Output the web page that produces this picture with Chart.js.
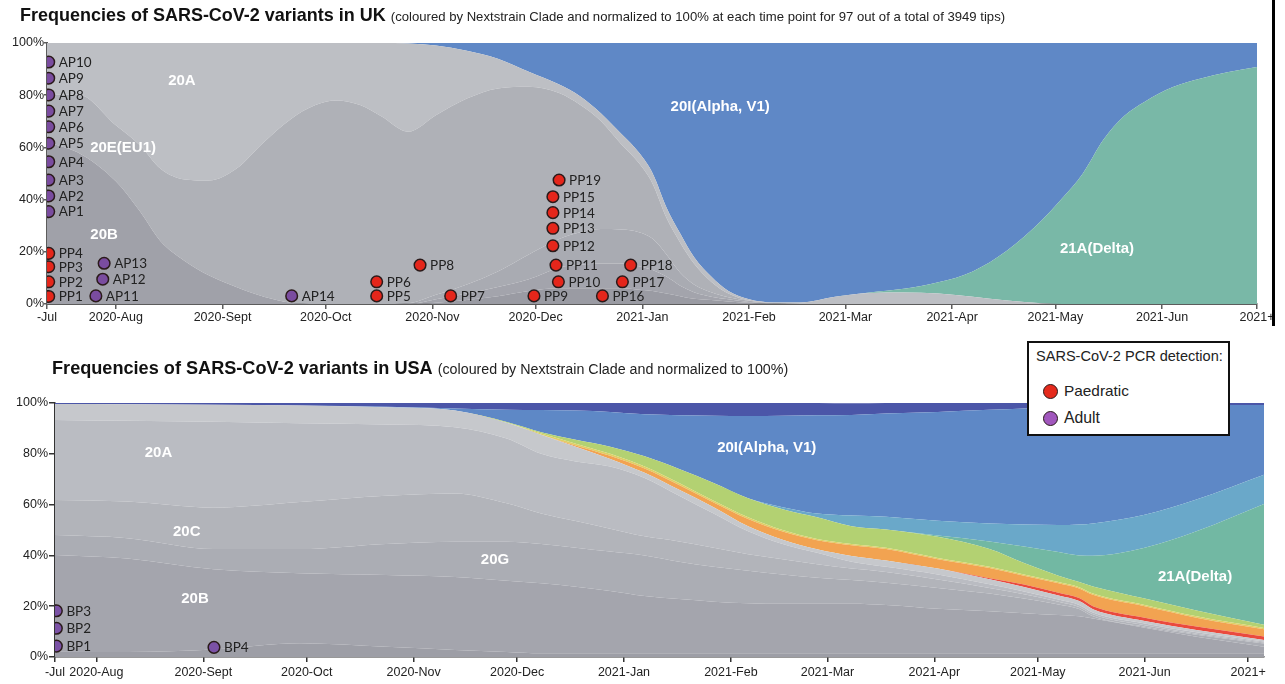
<!DOCTYPE html>
<html>
<head>
<meta charset="utf-8">
<script src="https://cdn.jsdelivr.net/npm/chart.js@4.4.1/dist/chart.umd.min.js"></script>
<style>
  html, body { margin: 0; padding: 0; background: #fff; }
  body { width: 1285px; height: 684px; position: relative; overflow: hidden;
         font-family: "Liberation Sans", Arial, sans-serif; }
  canvas { position: absolute; left: 0; }
  #ukCanvas { top: 0; }
  #usCanvas { top: 340px; }
  .head { position: absolute; white-space: nowrap; display: flex; align-items: baseline; color: #111; }
  .head b { font-size: 18px; font-weight: 700; }
  .head span { margin-left: 5px; font-size: 14px; color: #222; }
  #ukHead { left: 20px; top: 5px; }
  #usHead { left: 52px; top: 358px; }
  .narrow { font-family: "Liberation Sans Narrow", "Liberation Sans", Arial, sans-serif; }
  .legend { position: absolute; left: 1027px; top: 341px; width: 203px; height: 95px; box-sizing: border-box;
            border: 2px solid #111; background: #fff; color: #222; }
  .legend .ttl { position: absolute; left: 7px; top: 5px; white-space: nowrap; font-size: 15px; }
  .legend .item { position: absolute; left: 14px; display: flex; align-items: center; white-space: nowrap; }
  .legend .item span { font-size: 16px; }
  .legend .dot { width: 13px; height: 13px; border-radius: 50%; border: 1.5px solid #2a1a1a; margin-right: 6px; }
  .edge { position: absolute; left: 1272px; top: 0; width: 3px; height: 326px; background: #000; }
</style>
</head>
<body>
<canvas id="ukCanvas" width="1285" height="335"></canvas>
<canvas id="usCanvas" width="1285" height="344"></canvas>

<div class="head" id="ukHead"><b id="ukTitle">Frequencies of SARS-CoV-2 variants in UK</b><span class="narrow" id="ukSub">(coloured by Nextstrain Clade and normalized to 100% at each time point for 97 out of a total of 3949 tips)</span></div>
<div class="head" id="usHead"><b id="usTitle">Frequencies of SARS-CoV-2 variants in USA</b><span class="narrow" id="usSub">(coloured by Nextstrain Clade and normalized to 100%)</span></div>

<div class="legend narrow">
  <div class="ttl" id="legTitle">SARS-CoV-2 PCR detection:</div>
  <div class="item" style="top:39px"><div class="dot" style="background:#e52a1c"></div><span id="legPaed">Paedratic</span></div>
  <div class="item" style="top:66px"><div class="dot" style="background:#a157bd"></div><span id="legAdult">Adult</span></div>
</div>
<div class="edge"></div>

<script>
// ---- axis ticks (days counted from 2020-07-01) ----
const tickLabels = ['-Jul', '2020-Aug', '2020-Sept', '2020-Oct', '2020-Nov', '2020-Dec',
                    '2021-Jan', '2021-Feb', '2021-Mar', '2021-Apr', '2021-May', '2021-Jun', '2021+'];
const ukTickDays = [11, 31, 62, 92, 123, 153, 184, 215, 243, 274, 304, 335, 362.6];
const usTickDays = [19, 31, 62, 92, 123, 153, 184, 215, 243, 274, 304, 335, 365];

// ---- UK clade frequencies (%), one value per sample day ----
const ukDays = [11, 20, 31, 38, 44, 51, 58, 66, 74, 82, 89, 95, 102, 108, 116, 124, 133, 142, 151, 160,
                166, 172, 178, 183, 187, 191, 195, 199, 204, 209, 215, 222, 230, 240, 250, 260, 270, 280, 290, 300,
                306, 312, 318, 324, 330, 338, 346, 354, 363];
const uk20B = [62, 58, 47, 35.5, 24, 16.5, 11, 6.5, 2.8, 0.5, 0, 0, 0, 0, 0, 0, 0, 0, 0, 0,
               0, 0, 0, 0, 0, 0, 0, 0, 0, 0, 0, 0, 0, 0, 0, 0, 0, 0, 0, 0,
               0, 0, 0, 0, 0, 0, 0, 0, 0];
const ukOther1 = [0, 0, 0, 0, 0, 0, 0, 0, 0, 0, 0, 0, 0, 0, 0, 0.5, 1.5, 3, 5, 6,
                  6, 6, 6, 5.5, 5, 4, 3, 2, 1.5, 1, 0.5, 0, 0, 0, 0, 0, 0, 0, 0, 0,
                  0, 0, 0, 0, 0, 0, 0, 0, 0];
const ukOther2 = [0, 0, 0, 0, 0, 0, 0, 0, 0, 0, 0, 0, 0, 0, 0, 1.3, 2.5, 3.5, 4.5, 8,
                  9, 9.5, 9.5, 9, 8, 6.5, 4, 2.5, 1.3, 0.8, 0.3, 0.2, 0, 0, 0, 0, 0, 0, 0, 0,
                  0, 0, 0, 0, 0, 0, 0, 0, 0];
const ukOther3 = [0, 0, 0, 0, 0, 0, 0, 0, 0, 0, 0, 0, 0, 0, 0.3, 1.7, 3.5, 6, 9.5, 11,
                  12.5, 13.2, 13, 13, 12, 8.5, 5, 3, 1.7, 0.8, 0.4, 0.1, 0, 0, 0, 0, 0, 0, 0, 0,
                  0, 0, 0, 0, 0, 0, 0, 0, 0];
const uk20E = [18.3, 22.3, 21.5, 25.3, 27.8, 31.2, 36.3, 45.3, 59.2, 70.5, 76.2, 78, 76.2, 72, 65.7, 68.8, 71.2, 70.1, 64.2, 55.7,
               48.7, 41.3, 32.5, 26.5, 21, 14, 11.5, 8, 4, 1.4, 0.1, 0.1, 0, 0, 0, 0, 0, 0, 0, 0,
               0, 0, 0, 0, 0, 0, 0, 0, 0];
const uk20A = [19.7, 19.7, 31.5, 39.2, 48.2, 52.3, 52.7, 48.2, 38, 29, 23.8, 22, 23.8, 28, 33.8, 26.7, 18.3, 11.4, 5.8, 3.3,
               3.3, 3, 4, 4, 4, 4, 3.5, 2.5, 2, 1, 0.5, 0.2, 0.6, 2.8, 4.2, 4.4, 4, 2.8, 1.3, 0.3,
               0, 0, 0, 0, 0, 0, 0, 0, 0];
const uk21A = [0, 0, 0, 0, 0, 0, 0, 0, 0, 0, 0, 0, 0, 0, 0, 0, 0, 0, 0, 0,
               0, 0, 0, 0, 0, 0, 0, 0, 0, 0, 0, 0, 0, 0, 0.2, 1.4, 4.3, 9.7, 19.2, 31.7,
               40.5, 50, 63, 72, 77.5, 83, 86.3, 88.8, 90.9];
const uk20I = [0, 0, 0, 0, 0, 0, 0, 0, 0, 0, 0, 0, 0, 0, 0.2, 1, 3, 6, 11, 16,
               20.5, 27, 35, 42, 50, 63, 73, 82, 89.5, 95, 98.2, 99.4, 99.4, 97.2, 95.6, 94.2, 91.7, 87.5, 79.5, 68,
               59.5, 50, 37, 28, 22.5, 17, 13.7, 11.2, 9.1];

// ---- USA clade frequencies (%) ----
const usDays = [19, 40, 65, 90, 115, 135, 150, 160, 170, 180, 190, 200, 210, 220, 230, 240, 250, 260, 275, 290,
                300, 310, 316, 320, 335, 350, 370];
const usBase  = [2.1, 2.0, 3.0, 5.4, 4.0, 2.8, 2.0, 1.5, 1.5, 1.5, 1.5, 1.5, 1.5, 1.5, 1.5, 1.5, 1.5, 1.5, 1.5, 1.5,
                 1.5, 1.5, 1.5, 1.5, 1.5, 1.5, 1.5];
const us20B   = [38.1, 36.8, 31.5, 27.6, 28.3, 28.7, 28.0, 27.5, 26.2, 24.5, 22.5, 21.3, 20.3, 19.7, 19.5, 19.5, 19.5, 19.0, 17.5, 16.5,
                 15.7, 15.0, 14.5, 13.7, 10.0, 6.5, 2.5];
const us20G   = [7.8, 8.0, 8.0, 9.5, 12.2, 13.9, 15.4, 15.5, 15.3, 15.5, 16.0, 14.7, 13.7, 12.8, 11.5, 10.2, 9.3, 8.7, 8.2, 7.0,
                 5.8, 4.2, 2.9, 0.8, 0.4, 0.8, 1.2];
const us20C   = [13.8, 14.4, 16.3, 18.5, 19.0, 19.0, 15.1, 12.0, 10.5, 9.0, 7.5, 8.0, 7.5, 6.5, 6.0, 5.3, 4.5, 4.3, 3.3, 2.2,
                 1.7, 1.1, 0.8, 0.8, 0.6, 0.4, 0.4];
const us20A   = [31.5, 31.8, 33.8, 31.0, 28.0, 26.1, 25.5, 23.5, 23.5, 24.5, 23.0, 18.0, 13.5, 9.0, 6.0, 4.5, 2.7, 2.0, 2.0, 1.4,
                 1.1, 0.8, 0.8, 0.7, 0.7, 0.5, 0.4];
const usLight = [6.3, 6.5, 6.7, 7.0, 6.8, 6.5, 6.2, 7.5, 5.8, 3.0, 2.0, 2.3, 2.5, 2.0, 1.7, 1.4, 2.3, 2.5, 2.3, 2.0,
                 1.8, 1.6, 1.5, 1.3, 1.0, 0.9, 0.6];
const usRed   = [0, 0, 0, 0, 0, 0, 0, 0, 0, 0, 0, 0, 0, 0, 0, 0, 0, 0, 0, 0.4,
                 0.9, 1.1, 1.2, 1.2, 1.3, 1.4, 1.4];
const usOrange = [0, 0, 0, 0, 0, 0, 0, 0, 0.5, 1.2, 1.7, 1.9, 1.8, 2.8, 3.2, 3.6, 4.2, 4.5, 3.7, 4.0,
                  3.5, 3.7, 3.8, 4.5, 4.5, 3.5, 2.8];
const usYellow = [0, 0, 0, 0, 0, 0, 0, 0.5, 0.7, 0.8, 0.8, 0.8, 0.7, 0.7, 0.6, 0.5, 0.5, 0.5, 0.5, 0.5,
                  0.5, 0.5, 0.5, 0.5, 0.5, 0.5, 0.5];
const usLime  = [0, 0, 0, 0, 0, 0, 0.3, 0.5, 1.5, 2.8, 4.0, 5.5, 7.0, 7.5, 8.2, 8.5, 7.0, 7.2, 8.3, 7.0,
                 4.5, 2.5, 2.0, 2.8, 2.5, 2.3, 1.3];
const us21A   = [0, 0, 0, 0, 0, 0, 0, 0, 0, 0, 0, 0, 0, 0, 0, 0, 0, 0, 0.5, 3.0,
                 6.5, 9.3, 10.5, 12.1, 20.0, 31.2, 47.9];
const usTeal  = [0, 0, 0, 0, 0, 0, 0, 0, 0, 0, 0, 0, 0, 0, 0.8, 1.5, 4.2, 5.0, 5.8, 7.1,
                 8.7, 10.7, 12.2, 12.7, 13.0, 12.5, 11.5];
const us20I   = [0, 0, 0, 0, 0.2, 0.8, 4.8, 8.7, 11.5, 13.7, 16.6, 21.2, 26.5, 32.4, 36.0, 38.7, 39.6, 40.7, 42.9, 44.7,
                 45.6, 46.3, 46.4, 46.2, 43.0, 37.1, 27.2];
const usNavy  = [0.4, 0.5, 0.7, 1.0, 1.5, 2.2, 2.7, 2.8, 3.0, 3.5, 4.4, 4.8, 5.0, 5.1, 5.0, 4.8, 4.6, 4.1, 3.5, 2.7,
                 2.2, 1.7, 1.4, 1.2, 1.0, 0.9, 0.8];

// ---- PCR-positive samples ----
const ukPaedNames = ['PP1', 'PP2', 'PP3', 'PP4', 'PP5', 'PP6', 'PP7', 'PP8', 'PP9', 'PP10',
                     'PP11', 'PP12', 'PP13', 'PP14', 'PP15', 'PP16', 'PP17', 'PP18', 'PP19'];
const ukPaedDays  = [11.5, 11.5, 11.5, 11.5, 106.8, 106.8, 128.3, 119.4, 152.5, 159.6,
                     158.9, 158, 158, 158, 158, 172.4, 178.2, 180.6, 159.8];
const ukPaedPct   = [2.9, 8.5, 14.3, 19.4, 3.1, 8.5, 3.1, 14.9, 3.1, 8.5,
                     14.9, 22.3, 29.0, 35.0, 41.1, 3.1, 8.5, 14.9, 47.5];
const ukAdultNames = ['AP1', 'AP2', 'AP3', 'AP4', 'AP5', 'AP6', 'AP7', 'AP8', 'AP9', 'AP10',
                      'AP11', 'AP12', 'AP13', 'AP14'];
const ukAdultDays  = [11.5, 11.5, 11.5, 11.5, 11.5, 11.5, 11.5, 11.5, 11.5, 11.5,
                      25.2, 27.2, 27.6, 82.1];
const ukAdultPct   = [35.4, 41.4, 47.5, 54.5, 61.6, 67.9, 73.9, 80.1, 86.5, 92.7,
                      3.1, 9.5, 15.6, 3.1];
const usAdultNames = ['BP1', 'BP2', 'BP3', 'BP4'];
const usAdultDays  = [19.4, 19.4, 19.4, 65.1];
const usAdultPct   = [4.3, 11.3, 18.2, 3.8];

// ---- clade names written inside the areas ----
const ukCladeText = ['20A', '20E(EU1)', '20B', '20I(Alpha, V1)', '21A(Delta)'];
const ukCladeDay  = [50.2, 33.1, 27.6, 206.6, 316.1];
const ukCladePct  = [85.5, 59.9, 26.4, 75.4, 21.3];
const usCladeText = ['20A', '20C', '20B', '20G', '20I(Alpha, V1)', '21A(Delta)'];
const usCladeDay  = [49, 57.2, 59.6, 146.6, 225.4, 349.6];
const usCladePct  = [80.4, 49.3, 22.7, 38.2, 82.2, 31.4];

// use the narrow sans for small texts when it is installed
function fontInstalled(name) {
  const c = document.createElement('canvas').getContext('2d');
  const probe = 'AP10 Paedratic 2020-Sept 100%';
  c.font = '40px monospace';
  const a = c.measureText(probe).width;
  c.font = '40px "' + name + '", monospace';
  return c.measureText(probe).width !== a;
}
const hasNarrow = fontInstalled('Liberation Sans Narrow');
const smallFamily = hasNarrow ? '"Liberation Sans Narrow", "Liberation Sans", sans-serif' : 'Lato, "Liberation Sans", sans-serif';
const tickFamily = hasNarrow ? '"Liberation Sans Narrow", "Liberation Sans", sans-serif' : '"Liberation Sans", Arial, sans-serif';
const tickSize = hasNarrow ? 14 : 12.5;
const idSize = hasNarrow ? 14.5 : 13.5;

Chart.defaults.font.family = '"Liberation Sans", Arial, sans-serif';

// white clade names plus the sample ids beside each dot
const annotate = {
  id: 'annotate',
  afterDatasetsDraw(chart, args, opts) {
    const { ctx, scales } = chart;
    const x = scales.x, y = scales.y;
    ctx.save();
    ctx.font = 'bold 15px "Liberation Sans", Arial, sans-serif';
    ctx.fillStyle = '#ffffff';
    ctx.textAlign = 'center';
    ctx.textBaseline = 'middle';
    opts.text.forEach((t, i) => ctx.fillText(t, x.getPixelForValue(opts.day[i]), y.getPixelForValue(opts.pct[i])));
    ctx.font = idSize + 'px ' + smallFamily;
    ctx.fillStyle = '#222';
    ctx.textAlign = 'left';
    chart.data.datasets.forEach((ds, i) => {
      if (!ds.names) return;
      chart.getDatasetMeta(i).data.forEach((pt, j) => ctx.fillText(ds.names[j], pt.x + 10, pt.y + 0.5));
    });
    ctx.restore();
  }
};

function areas(days, layers) {
  return layers.map(([name, values, color], i) => ({
    type: 'line',
    label: name,
    data: days.map((d, j) => ({ x: d, y: values[j] })),
    backgroundColor: color,
    borderColor: color,
    borderWidth: 0,
    pointRadius: 0,
    fill: i === 0 ? 'origin' : '-1',
    cubicInterpolationMode: 'monotone',
    yAxisID: 'y',
    order: 1
  }));
}

function dots(names, days, pct, color) {
  return {
    type: 'scatter',
    names: names,
    data: days.map((d, j) => ({ x: d, y: pct[j] })),
    backgroundColor: color,
    borderColor: '#2a1a1a',
    borderWidth: 1.5,
    pointRadius: 5.8,
    pointHoverRadius: 5.8,
    yAxisID: 'yp',
    order: 0
  };
}

function makeChart(canvasId, cfg) {
  return new Chart(document.getElementById(canvasId), {
    type: 'line',
    data: { datasets: cfg.datasets },
    plugins: [annotate],
    options: {
      responsive: false,
      animation: false,
      events: [],
      layout: { padding: cfg.padding },
      plugins: {
        legend: { display: false },
        tooltip: { enabled: false },
        annotate: cfg.labels
      },
      scales: {
        x: {
          type: 'linear', min: cfg.min, max: cfg.max,
          afterBuildTicks: s => { s.ticks = cfg.tickDays.map(v => ({ value: v })); },
          afterFit: s => { s.height = cfg.xHeight; },
          ticks: { callback: (v, i) => tickLabels[i], autoSkip: false, maxRotation: 0, minRotation: 0,
                   color: '#222', font: { size: tickSize, family: tickFamily }, padding: cfg.xPad },
          grid: { display: true, drawOnChartArea: false, drawTicks: true, tickLength: 5,
                  color: cfg.axisColor, lineWidth: 1.5 },
          border: { display: true, color: cfg.axisColor, width: cfg.axisWidth }
        },
        y: {
          stacked: true, min: 0, max: 100,
          afterFit: s => { s.width = cfg.yWidth; },
          ticks: { stepSize: 20, callback: v => v + '%', color: '#222',
                   font: { size: tickSize, family: tickFamily }, padding: cfg.yPad },
          grid: { display: true, drawOnChartArea: false, drawTicks: true, tickLength: cfg.yTick,
                  color: cfg.axisColor, lineWidth: 1.5 },
          border: { display: true, color: cfg.axisColor, width: cfg.axisWidth }
        },
        yp: { display: false, min: 0, max: 100 }
      }
    }
  });
}

makeChart('ukCanvas', {
  datasets: [
    ...areas(ukDays, [
      ['20B', uk20B, '#a0a1a9'],
      ['other-1', ukOther1, '#9a9ba3'],
      ['other-2', ukOther2, '#a3a4ac'],
      ['other-3', ukOther3, '#a9abb2'],
      ['20E(EU1)', uk20E, '#afb1b7'],
      ['20A', uk20A, '#bdbfc4'],
      ['21A(Delta)', uk21A, '#79b8a7'],
      ['20I(Alpha, V1)', uk20I, '#5f88c6']
    ]),
    dots(ukPaedNames, ukPaedDays, ukPaedPct, '#e5261b'),
    dots(ukAdultNames, ukAdultDays, ukAdultPct, '#7a4c9f')
  ],
  labels: { text: ukCladeText, day: ukCladeDay, pct: ukCladePct },
  padding: { top: 43, right: 28, bottom: 0, left: 0 },
  min: 11, max: 362.6, tickDays: ukTickDays,
  xHeight: 31, xPad: 1, yWidth: 47, yPad: 0, yTick: 3,
  axisColor: '#5c5c5c', axisWidth: 2
});

makeChart('usCanvas', {
  datasets: [
    ...areas(usDays, [
      ['base', usBase, '#9d9ea6'],
      ['20B', us20B, '#a4a5ad'],
      ['20G', us20G, '#abadb4'],
      ['20C', us20C, '#b2b4ba'],
      ['20A', us20A, '#babcc2'],
      ['other', usLight, '#c6c8cc'],
      ['red', usRed, '#ea4a3e'],
      ['orange', usOrange, '#f2a351'],
      ['yellow', usYellow, '#ddd065'],
      ['lime', usLime, '#b3d172'],
      ['21A(Delta)', us21A, '#72b8a3'],
      ['teal', usTeal, '#6aa8c9'],
      ['20I(Alpha, V1)', us20I, '#5e88c6'],
      ['navy', usNavy, '#4b56a8']
    ]),
    dots(usAdultNames, usAdultDays, usAdultPct, '#7b52a6')
  ],
  labels: { text: usCladeText, day: usCladeDay, pct: usCladePct },
  padding: { top: 63, right: 21, bottom: 0, left: 0 },
  min: 19, max: 369.6, tickDays: usTickDays,
  xHeight: 27, xPad: 3, yWidth: 55, yPad: 1, yTick: 6,
  axisColor: '#333', axisWidth: 1.5
});

// size the heading and legend texts to their measured widths
function fitWidth(id, w) {
  const el = document.getElementById(id);
  const fs = parseFloat(getComputedStyle(el).fontSize);
  el.style.fontSize = (fs * w / el.getBoundingClientRect().width) + 'px';
}
fitWidth('ukTitle', 366);
fitWidth('ukSub', 615);
fitWidth('usTitle', 381);
fitWidth('usSub', 351);
fitWidth('legTitle', 187);
fitWidth('legPaed', 65);
fitWidth('legAdult', 36);
</script>
</body>
</html>
